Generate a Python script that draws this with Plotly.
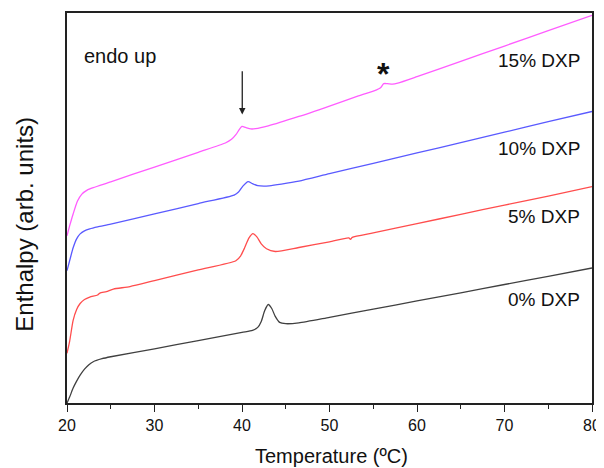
import plotly.graph_objects as go

# Temperature (°C) and enthalpy (arbitrary units)
t_0 = [20.0, 20.3, 20.7, 21.1, 21.5, 22.0, 22.5, 23.0, 24.0, 25.0, 30, 35, 40, 41.2, 41.8, 42.2, 42.6, 43.0,
       43.4, 43.8, 44.3, 45.0, 46.5, 50, 55, 60, 65, 70, 75, 80]
h_0 = [0, 6, 15, 22, 28, 34, 38.5, 41.5, 44.5, 46.5, 54.5, 62.8, 71, 73, 76, 82, 93, 99,
       95, 87, 81, 79.7, 80.5, 86.1, 94.3, 102.6, 110.8, 119.1, 127.3, 135.7]

t_5 = [20.0, 20.3, 20.7, 21.1, 21.5, 22.0, 22.6, 23.5, 23.75, 24.5, 25.3, 27.2, 30, 35, 39.3, 39.85, 40.3,
       40.8, 41.25, 41.7, 42.2, 42.8, 43.8, 46.5, 50, 52.2, 52.4, 52.6, 55, 60, 65, 70, 75, 80]
h_5 = [50, 62, 83, 94, 100, 104, 106.5, 108.5, 110.5, 112, 114.5, 117, 123, 133.8, 143, 148, 156,
       166, 170.3, 167, 160, 155, 152.3, 156.3, 162, 166, 164.5, 166.5, 171, 180.3, 189.6, 198.9, 208, 217.4]

t_10 = [20.0, 20.3, 20.7, 21.1, 21.5, 22.0, 22.6, 23.5, 25, 30, 35, 39.1, 39.6, 40.1, 40.7, 41.2, 41.8,
        42.5, 43.1, 44.5, 46.5, 50, 55, 60, 65, 70, 75, 80]
h_10 = [133, 143, 156, 165, 170, 173, 175, 177, 179.7, 190, 200.5, 209, 212, 218, 222.5, 220.5, 218.5,
        218, 218.3, 220, 223, 230.5, 240.9, 251.3, 261.8, 272.2, 282.7, 293]

t_15 = [20.0, 20.3, 20.7, 21.2, 21.7, 22.3, 23.0, 25, 30, 35, 38.1, 38.8, 39.3, 39.7, 40.0, 40.4, 41.0,
        41.55, 43, 46.5, 50, 53.3, 55.3, 55.8, 56.2, 56.6, 57.2, 57.8, 60, 65, 70, 75, 80]
h_15 = [168, 178, 190, 203, 210, 214, 216.5, 222.3, 237.2, 252, 261.3, 265, 269.7, 275, 278, 277, 275.5,
        275.7, 278.5, 288, 298.5, 308.7, 314.5, 316.5, 321, 321, 320.5, 321.5, 328, 343.4, 358.8, 374.2, 389.7]

series = [
    ("0% DXP", t_0, h_0, "#404040", 104),
    ("5% DXP", t_5, h_5, "#ff4d4d", 187.5),
    ("10% DXP", t_10, h_10, "#5a5aff", 255.5),
    ("15% DXP", t_15, h_15, "#ff5cff", 344),
]

FONT = "Liberation Sans, Arial"

fig = go.Figure()
for name, t, h, col, ly in series:
    fig.add_trace(go.Scatter(x=t, y=h, mode="lines", name=name,
                             line=dict(color=col, width=1.3, shape="spline", smoothing=0.6),
                             showlegend=False, hoverinfo="skip"))
    fig.add_annotation(x=78.9, y=ly, xref="x", yref="y", text=name, showarrow=False,
                       xanchor="right", yanchor="middle",
                       font=dict(size=19, color="#111111", family=FONT))

fig.add_annotation(x=21.7, y=349, xref="x", yref="y", text="endo up", showarrow=False,
                   xanchor="left", yanchor="middle",
                   font=dict(size=20, color="#111111", family=FONT))
fig.add_annotation(x=40.03, y=290, ax=40.03, ay=335, xref="x", yref="y", axref="x", ayref="y",
                   text="", showarrow=True, arrowhead=2, arrowsize=1, arrowwidth=1.3, arrowcolor="#222222")
fig.add_annotation(x=56.2, y=331, xref="x", yref="y", text="<b>*</b>", showarrow=False,
                   xanchor="center", yanchor="middle",
                   font=dict(size=32, color="#111111", family=FONT))

fig.add_annotation(x=0.503, y=-0.135, xref="paper", yref="paper", text="Temperature (ºC)",
                   showarrow=False, xanchor="center", yanchor="middle",
                   font=dict(size=20, color="#111111", family=FONT))
fig.add_annotation(x=-0.0805, y=0.459, xref="paper", yref="paper", text="Enthalpy (arb. units)",
                   showarrow=False, xanchor="center", yanchor="middle", textangle=-90,
                   font=dict(size=24, color="#111111", family=FONT))

# page body has an 8px margin, so the figure is shifted by 8px right and down
fig.update_layout(
    width=596, height=460,
    margin=dict(l=59, r=9, t=3, b=65),
    paper_bgcolor="white", plot_bgcolor="white",
    font=dict(family=FONT, color="#111111"),
    xaxis=dict(range=[20, 80], tickvals=[20, 30, 40, 50, 60, 70, 80], ticks="outside", ticklen=7,
               tickwidth=1.3, tickcolor="#222222", showline=True, linecolor="#222222", linewidth=1.5,
               mirror=True, showgrid=False, zeroline=False, tickfont=dict(size=16, color="#111111"),
               ticklabeloverflow="allow",
               minor=dict(dtick=5, tick0=25, ticks="outside", ticklen=4, tickwidth=1.2, tickcolor="#222222",
                          showgrid=False)),
    yaxis=dict(range=[0, 392], showticklabels=False, ticks="", showline=True, linecolor="#222222",
               linewidth=1.5, mirror=True, showgrid=False, zeroline=False),
)

fig.write_html("out.html")
